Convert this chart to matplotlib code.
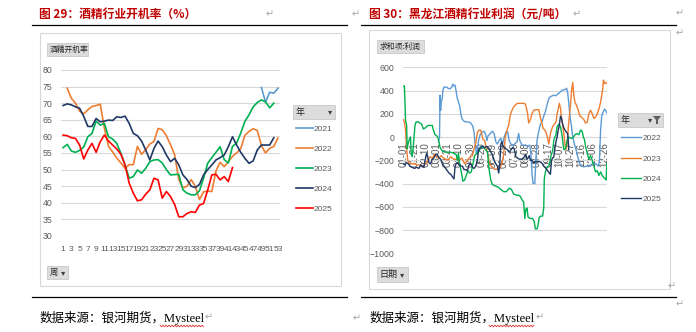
import matplotlib
matplotlib.use('Agg')
import matplotlib.pyplot as plt
from matplotlib import font_manager
from matplotlib.patches import Rectangle, Polygon
import pandas as pd

W, H = 696, 332
CJK = ['Noto Sans CJK SC', 'DejaVu Sans']
_names = {f.name for f in font_manager.fontManager.ttflist}
NUM = 'Liberation Sans Narrow' if 'Liberation Sans Narrow' in _names else 'Liberation Sans'
GREY = '#595959'

# ---- 酒精行业开机率 (%) by week ----
wk_2021 = [49, 50, 51, 52, 53]
rate_2021 = [74.7, 70.3, 73.3, 73.0, 74.5]
wk_2022 = list(range(2, 54))
rate_2022 = [74.5, 71.5, 70.0, 67.6, 66.8, 68.0, 69.0, 69.3, 69.7, 62.5,
             57.0, 55.3, 53.5, 52.0, 50.4, 51.5, 51.5, 57.0, 54.6, 56.0,
             57.7, 58.5, 62.4, 62.0, 60.2, 57.5, 54.5, 47.0, 44.5, 45.0,
             47.0, 45.0, 41.0, 43.3, 43.5, 43.4, 49.6, 52.2, 50.9, 52.4,
             54.0, 55.0, 56.3, 60.3, 61.5, 62.3, 61.8, 57.2, 55.0, 56.4,
             57.0, 59.5]
wk_2023 = list(range(1, 53))
rate_2023 = [56.6, 57.6, 55.6, 55.2, 55.8, 56.8, 59.9, 60.9, 64.6, 63.4,
             63.9, 59.9, 59.2, 57.9, 54.9, 51.4, 47.4, 47.9, 49.9, 48.9,
             50.4, 52.4, 52.9, 53.0, 52.0, 50.0, 48.4, 48.5, 48.6, 43.9,
             42.9, 42.4, 42.4, 43.6, 47.4, 51.9, 53.6, 55.2, 56.9, 53.0,
             52.0, 57.0, 58.0, 61.0, 64.5, 66.5, 68.9, 70.2, 71.0, 70.4,
             68.6, 70.0]
wk_2024 = list(range(1, 53))
rate_2024 = [69.3, 69.8, 69.5, 68.9, 68.5, 66.0, 63.0, 63.0, 65.4, 64.4,
             64.6, 64.9, 64.8, 65.9, 65.7, 66.1, 63.9, 60.9, 60.2, 58.6,
             55.9, 52.9, 56.4, 58.6, 56.9, 54.4, 52.4, 53.4, 51.4, 48.4,
             47.0, 45.0, 44.6, 45.5, 48.4, 50.0, 51.4, 52.9, 53.6, 54.4,
             56.9, 59.9, 57.4, 55.2, 53.4, 51.9, 52.6, 55.9, 57.4, 57.4,
             57.4, 59.6]
wk_2025 = list(range(1, 43))
rate_2025 = [60.4, 60.2, 59.6, 59.4, 57.4, 53.2, 55.9, 57.9, 55.2, 58.4,
             60.4, 58.6, 57.4, 56.2, 54.6, 51.4, 45.9, 42.9, 40.6, 40.9,
             42.6, 43.9, 47.4, 46.9, 41.4, 43.4, 41.9, 39.5, 35.8, 35.8,
             36.8, 37.3, 37.1, 39.3, 39.8, 43.8, 48.4, 48.6, 46.9, 47.9,
             46.4, 50.6]

# ---- 黑龙江酒精行业利润 (元/吨), day index 0 = 01-01 ----
dates = pd.date_range('2024-01-01', '2024-12-31').strftime('%m-%d')
day_2022 = [63, 65, 66, 67, 68, 70, 71, 73, 78, 80, 84, 87, 89, 91, 93, 95,
            97, 99, 101, 103, 105, 108, 112, 118, 122, 125, 127, 129, 131,
            133, 135, 138, 141, 145, 148, 150, 152, 156, 160, 163, 166, 169,
            172, 175, 178, 181, 184, 187, 190, 193, 196, 200, 204, 207, 209,
            213, 218, 223, 227, 229, 231, 233, 236, 238, 240, 243, 246, 249,
            252, 255, 258, 262, 265, 270, 274, 277, 280, 284, 287, 291, 293,
            295, 297, 299, 301, 304, 307, 310, 313, 316, 319, 325, 330, 336,
            340, 345, 350, 352, 354, 356, 358, 361, 363, 365]
profit_2022 = [-40, 0, 360, 230, 300, 330, 400, 430, 430, 420, 415, 430, 455,
               440, 445, 390, 330, 300, 270, 210, 160, 140, 130, 130, 115, 90,
               40, -60, -140, -120, -30, 20, 40, 50, 20, -30, 10, 30, 50, 30,
               -40, -60, -30, -10, -60, 0, 40, 50, -30, -60, -70, -60, -40, 30,
               -30, -70, -70, -80, -70, -150, -320, -400, -400, -180, -30, 50,
               110, 130, 180, 220, 280, 340, 350, 360, 355, 370, 380, 400, 405,
               410, 420, 380, 290, 180, 120, 0, -60, -110, -170, -220, -250,
               -255, -250, -250, -220, -230, -250, -200, 60, 180, 210, 240,
               230, 210]
day_2023 = [0, 2, 4, 6, 8, 10, 14, 20, 25, 30, 35, 40, 45, 48, 52, 56, 60, 64,
            68, 72, 76, 80, 85, 90, 95, 100, 105, 110, 115, 120, 124, 127, 130,
            133, 136, 139, 141, 143, 146, 149, 152, 155, 158, 162, 166, 170,
            174, 177, 180, 183, 186, 189, 192, 195, 198, 202, 205, 210, 215,
            219, 221, 223, 225, 228, 231, 234, 238, 243, 246, 249, 251, 254,
            257, 259, 261, 263, 265, 268, 271, 274, 276, 278, 280, 282, 284,
            286, 288, 290, 292, 294, 296, 298, 300, 302, 304, 306, 308, 311,
            314, 317, 320, 324, 327, 330, 333, 336, 339, 342, 345, 348, 351,
            354, 356, 358, 359, 361, 363, 365]
profit_2023 = [150, 130, 60, -100, -200, -220, -230, -230, -240, -240, -250,
               -230, -200, -170, -180, -150, -170, -180, -160, -180, -190,
               -200, -170, -190, -190, -200, -180, -230, -200, -170, -160,
               -100, -50, 40, 60, 60, 20, -20, -30, -100, -150, -230, -250,
               -270, -280, -270, -260, -230, -150, 0, 60, 100, 190, 230, 260,
               280, 290, 290, 290, 285, 250, 200, 120, 150, 200, 230, 235, 235,
               170, 110, 75, 60, 30, -10, -60, 0, 50, 90, 110, 130, 200, 240,
               290, 250, 160, 100, 30, -60, -110, -60, 80, 180, 280, 400, 470,
               360, 300, 270, 230, 180, 170, 150, 120, 130, 200, 230, 200, 160,
               170, 200, 240, 300, 360, 420, 490, 460, 470, 460]
day_2024 = [1, 2, 3, 4, 6, 7, 9, 11, 13, 14, 16, 18, 19, 21, 23, 27, 30, 33,
            36, 40, 44, 48, 52, 54, 57, 60, 62, 64, 66, 70, 75, 80, 85, 90, 95,
            97, 99, 101, 104, 107, 110, 113, 116, 119, 122, 125, 128, 132, 136,
            140, 144, 148, 151, 154, 157, 160, 165, 170, 175, 180, 185, 190,
            194, 198, 203, 207, 210, 213, 216, 218, 220, 222, 224, 228, 232,
            235, 237, 240, 242, 244, 247, 250, 252, 253, 255, 258, 262, 265,
            268, 270, 272, 274, 276, 279, 282, 285, 288, 291, 294, 297, 300,
            304, 308, 312, 315, 318, 321, 323, 325, 327, 330, 333, 336, 339,
            342, 345, 348, 351, 354, 357, 360, 363, 364, 365]
profit_2024 = [440, 440, 300, 150, 100, -100, -50, -20, 0, -130, -170, -80, -20,
               100, 130, 130, 120, 110, 70, 80, 100, 100, 100, 60, 20, 10, 0,
               -40, -90, -120, -130, -130, -130, -140, -150, -200, -140, -230,
               -300, -380, -370, -330, -290, -310, -300, -230, -160, -140, -120,
               -80, -90, -110, -130, -280, -370, -410, -420, -430, -450, -470,
               -470, -440, -450, -490, -500, -500, -510, -540, -560, -700,
               -620, -610, -690, -700, -700, -730, -790, -790, -750, -690,
               -680, -680, -610, -360, -300, -260, -240, -160, -120, -30, 0, 20,
               90, 110, 90, 10, -110, -100, -30, 0, -10, -10, 20, 30, 20, 60,
               50, 0, -20, -80, -140, -190, -160, -200, -250, -300, -290, -330,
               -300, -330, -350, -360, -370, -230]
day_2025 = [0, 3, 6, 9, 12, 16, 20, 24, 28, 31, 34, 37, 39, 42, 44, 46, 49, 52,
            55, 58, 61, 64, 67, 70, 73, 76, 79, 82, 85, 88, 91, 93, 95, 97, 100,
            103, 106, 109, 112, 115, 118, 121, 124, 127, 130, 133, 135, 138,
            142, 146, 150, 154, 157, 160, 163, 166, 169, 171, 173, 175, 177,
            179, 181, 184, 187, 190, 193, 196, 199, 202, 205, 208, 212, 216,
            218, 220, 222, 224, 226, 228, 231, 234, 238, 243, 248, 252, 256,
            259, 262, 264, 266, 268, 270, 272, 274, 276, 278, 280, 282, 284,
            286, 288, 290, 293, 295, 297]
profit_2025 = [-230, -240, -220, -230, -250, -260, -270, -260, -270, -240, -250,
               -260, -200, -140, -170, -220, -230, -190, -180, -150, -150, -180,
               -190, -230, -250, -270, -290, -310, -320, -340, -360, -250, -230,
               -220, -240, -250, -250, -280, -280, -290, -240, -230, -260, -270,
               -250, -200, -110, -90, -80, -90, -80, -100, -130, -150, -200,
               -230, -250, -310, -250, -60, -40, -80, -90, -100, -110, -130,
               -110, -90, -100, -170, -180, -190, -190, -180, -160, -150, -190,
               -180, -160, -200, -200, -220, -210, -210, -220, -250, -270, -290,
               -310, -320, -200, -180, -170, -100, -40, 0, 60, 100, 180, 160,
               110, 80, 60, 40, 30, -110]


def fig_rect(x0, y0, x1, y1):
    return [x0 / W, 1 - y1 / H, (x1 - x0) / W, (y1 - y0) / H]


fig = plt.figure(figsize=(W / 100, H / 100), dpi=100)
fig.patch.set_facecolor('white')

# page layer: titles, rules, frames, buttons, notes
deco = fig.add_axes([0, 0, 1, 1])
deco.set_xlim(0, W)
deco.set_ylim(H, 0)
deco.axis('off')


def button(x0, y0, x1, y1, label, size=5.6):
    deco.add_patch(Rectangle((x0, y0), x1 - x0, y1 - y0, facecolor='#DCDCDC',
                             edgecolor='#C8C8C8', lw=0.6))
    deco.text(x0 + 2.5, (y0 + y1) / 2, label, family=CJK, fontsize=size,
              color='#262626', va='center', ha='left')


def mark(x, y, size=7):
    deco.text(x, y, '\u21b5', fontsize=size, color='#A6A6A6', ha='center',
              va='center', family='DejaVu Sans')


for x0, x1, title in [(39, 32, '图 29：酒精行业开机率（%）'),
                      (369, 361, '图 30：黑龙江酒精行业利润（元/吨）')]:
    deco.text(x0, 14, title, family=CJK, fontsize=8.5, fontweight='bold',
              color='#C00000', va='center', ha='left')
    deco.plot([x1, x1 + 315], [25, 25], color='black', lw=0.9)
    deco.plot([x1, x1 + 315], [297, 297], color='black', lw=0.9)

deco.add_patch(Rectangle((40, 33), 301, 253, facecolor='white',
                         edgecolor='#D9D9D9', lw=0.8))
deco.add_patch(Rectangle((369, 30), 301, 259, facecolor='white',
                         edgecolor='#D9D9D9', lw=0.8))

button(47, 43, 88, 56, '酒精开机率')
button(47, 266, 68, 279, '周', size=6)
deco.text(63, 272.5, '▾', fontsize=6, color='#404040', ha='center', va='center')
button(293, 105, 335, 119, '年', size=6.5)
deco.text(330, 112, '▾', fontsize=6, color='#404040', ha='center', va='center')

button(377, 40, 424, 53, '求和项:利润')
button(377, 267, 408, 282, '日期', size=6.5)
deco.text(402, 274.5, '▾', fontsize=6, color='#404040', ha='center', va='center')
button(618, 113, 663, 127, '年', size=6.5)
deco.text(650, 120, '▾', fontsize=6, color='#404040', ha='center', va='center')
deco.add_patch(Polygon([(653, 116), (661, 116), (658, 120), (658, 124),
                        (656, 124), (656, 120)], closed=True,
                       facecolor='#606060', edgecolor='none'))

src = '数据来源：银河期货，Mysteel'
for sx in (40, 370):
    deco.text(sx, 318, src, family=['Liberation Serif', 'Noto Sans CJK SC'],
              fontsize=9, color='black', va='center', ha='left')
# spell-check squiggle under "Mysteel"
for x0, x1 in [(160, 204), (489, 534)]:
    xs = [x0 + 1.5 * i for i in range(int((x1 - x0) / 1.5) + 1)]
    deco.plot(xs, [326 + (0.8 if i % 2 else -0.8) for i in range(len(xs))],
              color='#E03030', lw=0.6)

for x, y in [(270, 14), (356, 14), (577, 14), (680, 13), (680, 33),
             (209, 317), (357, 318), (540, 317), (672, 286), (680, 304)]:
    mark(x, y)

# ---- left chart ----
ax1 = fig.add_axes(fig_rect(61, 70, 280, 236))
ax1.set_facecolor('none')
l1 = []
for wk, vals, col, lab in [(wk_2021, rate_2021, '#5B9BD5', '2021'),
                           (wk_2022, rate_2022, '#ED7D31', '2022'),
                           (wk_2023, rate_2023, '#00B050', '2023'),
                           (wk_2024, rate_2024, '#1F3864', '2024'),
                           (wk_2025, rate_2025, '#FF0000', '2025')]:
    l1 += ax1.plot(wk, vals, color=col, lw=1.2, label=lab,
                   solid_joinstyle='round')
ax1.set_xlim(0.5, 53.5)
ax1.set_ylim(30, 80)
ax1.set_yticks(range(30, 81, 5))
ax1.set_xticks(range(1, 54, 2))
ax1.set_xticklabels([str(w) for w in range(1, 54, 2)])
ax1.grid(axis='y', color='#D9D9D9', lw=0.8)
ax1.set_axisbelow(True)
for s in ax1.spines.values():
    s.set_visible(False)
ax1.tick_params(axis='y', length=0, pad=6, labelsize=6.3, labelcolor=GREY)
ax1.tick_params(axis='x', length=0, pad=7, labelsize=6, labelcolor=GREY)
for t in ax1.get_xticklabels() + ax1.get_yticklabels():
    t.set_family(NUM)
leg1 = ax1.legend(handles=l1, loc='upper left', bbox_to_anchor=(296 / W, 1 - 125.5 / H),
                  bbox_transform=fig.transFigure, frameon=False, fontsize=6,
                  handlelength=2.0, handletextpad=0.15, labelspacing=1.45,
                  borderpad=0, borderaxespad=0)
for t in leg1.get_texts():
    t.set_color(GREY)
    t.set_family(NUM)

# ---- right chart ----
ax2 = fig.add_axes(fig_rect(403, 67.3, 607, 253.3))
ax2.set_facecolor('none')
l2 = []
for d, vals, col, lab in [(day_2022, profit_2022, '#5B9BD5', '2022'),
                          (day_2023, profit_2023, '#ED7D31', '2023'),
                          (day_2024, profit_2024, '#00B050', '2024'),
                          (day_2025, profit_2025, '#1F3864', '2025')]:
    l2 += ax2.plot(d, vals, color=col, lw=1.0, label=lab)
ax2.set_xlim(-0.5, len(dates) - 0.5)
ax2.set_ylim(-1000, 600)
ax2.set_yticks(range(-1000, 601, 200))
tick_idx = list(range(0, len(dates), 20))
ax2.set_xticks(tick_idx)
ax2.set_xticklabels([dates[i] for i in tick_idx])
ax2.spines['bottom'].set_position(('data', 0))
for s in ax2.spines.values():
    s.set_visible(False)
ax2.grid(axis='y', color='#D9D9D9', lw=0.8)
ax2.set_axisbelow(True)
ax2.tick_params(axis='y', length=0, pad=6, labelsize=6.3, labelcolor=GREY)
ax2.tick_params(axis='x', length=0, pad=4, labelsize=7, labelcolor=GREY,
                labelrotation=90)
for t in ax2.get_xticklabels() + ax2.get_yticklabels():
    t.set_family(NUM)
    t.set_zorder(5)
leg2 = ax2.legend(handles=l2, loc='upper left', bbox_to_anchor=(621 / W, 1 - 134.5 / H),
                  bbox_transform=fig.transFigure, frameon=False, fontsize=6,
                  handlelength=2.4, handletextpad=0.2, labelspacing=1.5,
                  borderpad=0, borderaxespad=0)
for t in leg2.get_texts():
    t.set_color(GREY)
    t.set_family(NUM)

fig.savefig('out.png', dpi=100, facecolor='white')
